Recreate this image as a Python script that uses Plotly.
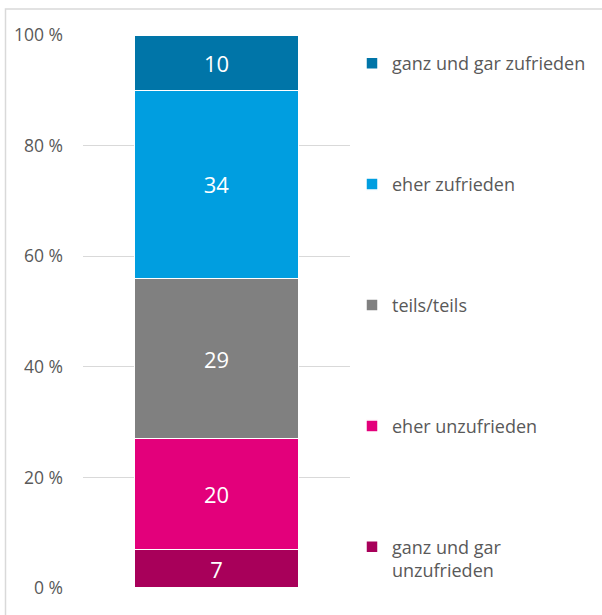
import plotly.graph_objects as go

categories = [""]
series_names = ["ganz und gar<br>unzufrieden", "eher unzufrieden", "teils/teils",
                "eher zufrieden", "ganz und gar zufrieden"]
series_values = [7, 20, 29, 34, 10]
series_colors = ["#A8005A", "#E3007B", "#808080", "#009EE0", "#0075A8"]
tick_values = [0, 20, 40, 60, 80, 100]
tick_labels = ["0 %", "20 %", "40 %", "60 %", "80 %", "100 %"]

FONT = "'Open Sans', sans-serif"
TXT = "#595959"

fig = go.Figure()
n = len(series_names)
for i, (name, val, col) in enumerate(zip(series_names, series_values, series_colors)):
    fig.add_trace(go.Bar(
        x=categories, y=[val], name=name,
        marker=dict(color=col, line=dict(color="white", width=1.5)),
        text=[str(val)], textposition="inside", insidetextanchor="middle",
        textangle=0, textfont=dict(color="white", size=22, family=FONT),
        legendgroup=f"g{i}", legendrank=100 + (n - i), hoverinfo="skip",
    ))

# plot area: x 83..350, y 35..588
W, H = 602, 615
L, R, T, B = 83, W - 350, 35, H - 588
pw = W - L - R
ph = H - T - B

def px_x(p):
    return (p - L) / pw

def px_y(p):
    return (H - B - p) / ph

fig.update_layout(
    width=W, height=H,
    margin=dict(l=L, r=R, t=T, b=B, autoexpand=False),
    barmode="stack", bargap=0.386,
    plot_bgcolor="white", paper_bgcolor="white",
    font=dict(family=FONT, color=TXT, size=18),
    xaxis=dict(showticklabels=False, showgrid=False, zeroline=False, showline=False),
    yaxis=dict(range=[0, 100], tickvals=tick_values, ticktext=tick_labels,
               gridcolor="#D9D9D9", gridwidth=1.3, zeroline=False, showline=False,
               tickfont=dict(size=17.5, color=TXT), ticklabelstandoff=19),
    legend=dict(x=px_x(352), y=px_y(45), xanchor="left", yanchor="top",
                traceorder="grouped", tracegroupgap=94.5,
                font=dict(size=18, color=TXT), itemwidth=30, valign="top",
                bgcolor="rgba(0,0,0,0)"),
    shapes=[dict(type="rect", xref="paper", yref="paper",
                 x0=px_x(5.5), x1=px_x(620), y0=px_y(630), y1=px_y(9),
                 line=dict(color="#D9D9D9", width=1.5), fillcolor="rgba(0,0,0,0)",
                 layer="below")],
)

fig.write_html("out.html", config={"displayModeBar": False},
               post_script="document.body.style.margin='0';document.body.style.padding='0';")
